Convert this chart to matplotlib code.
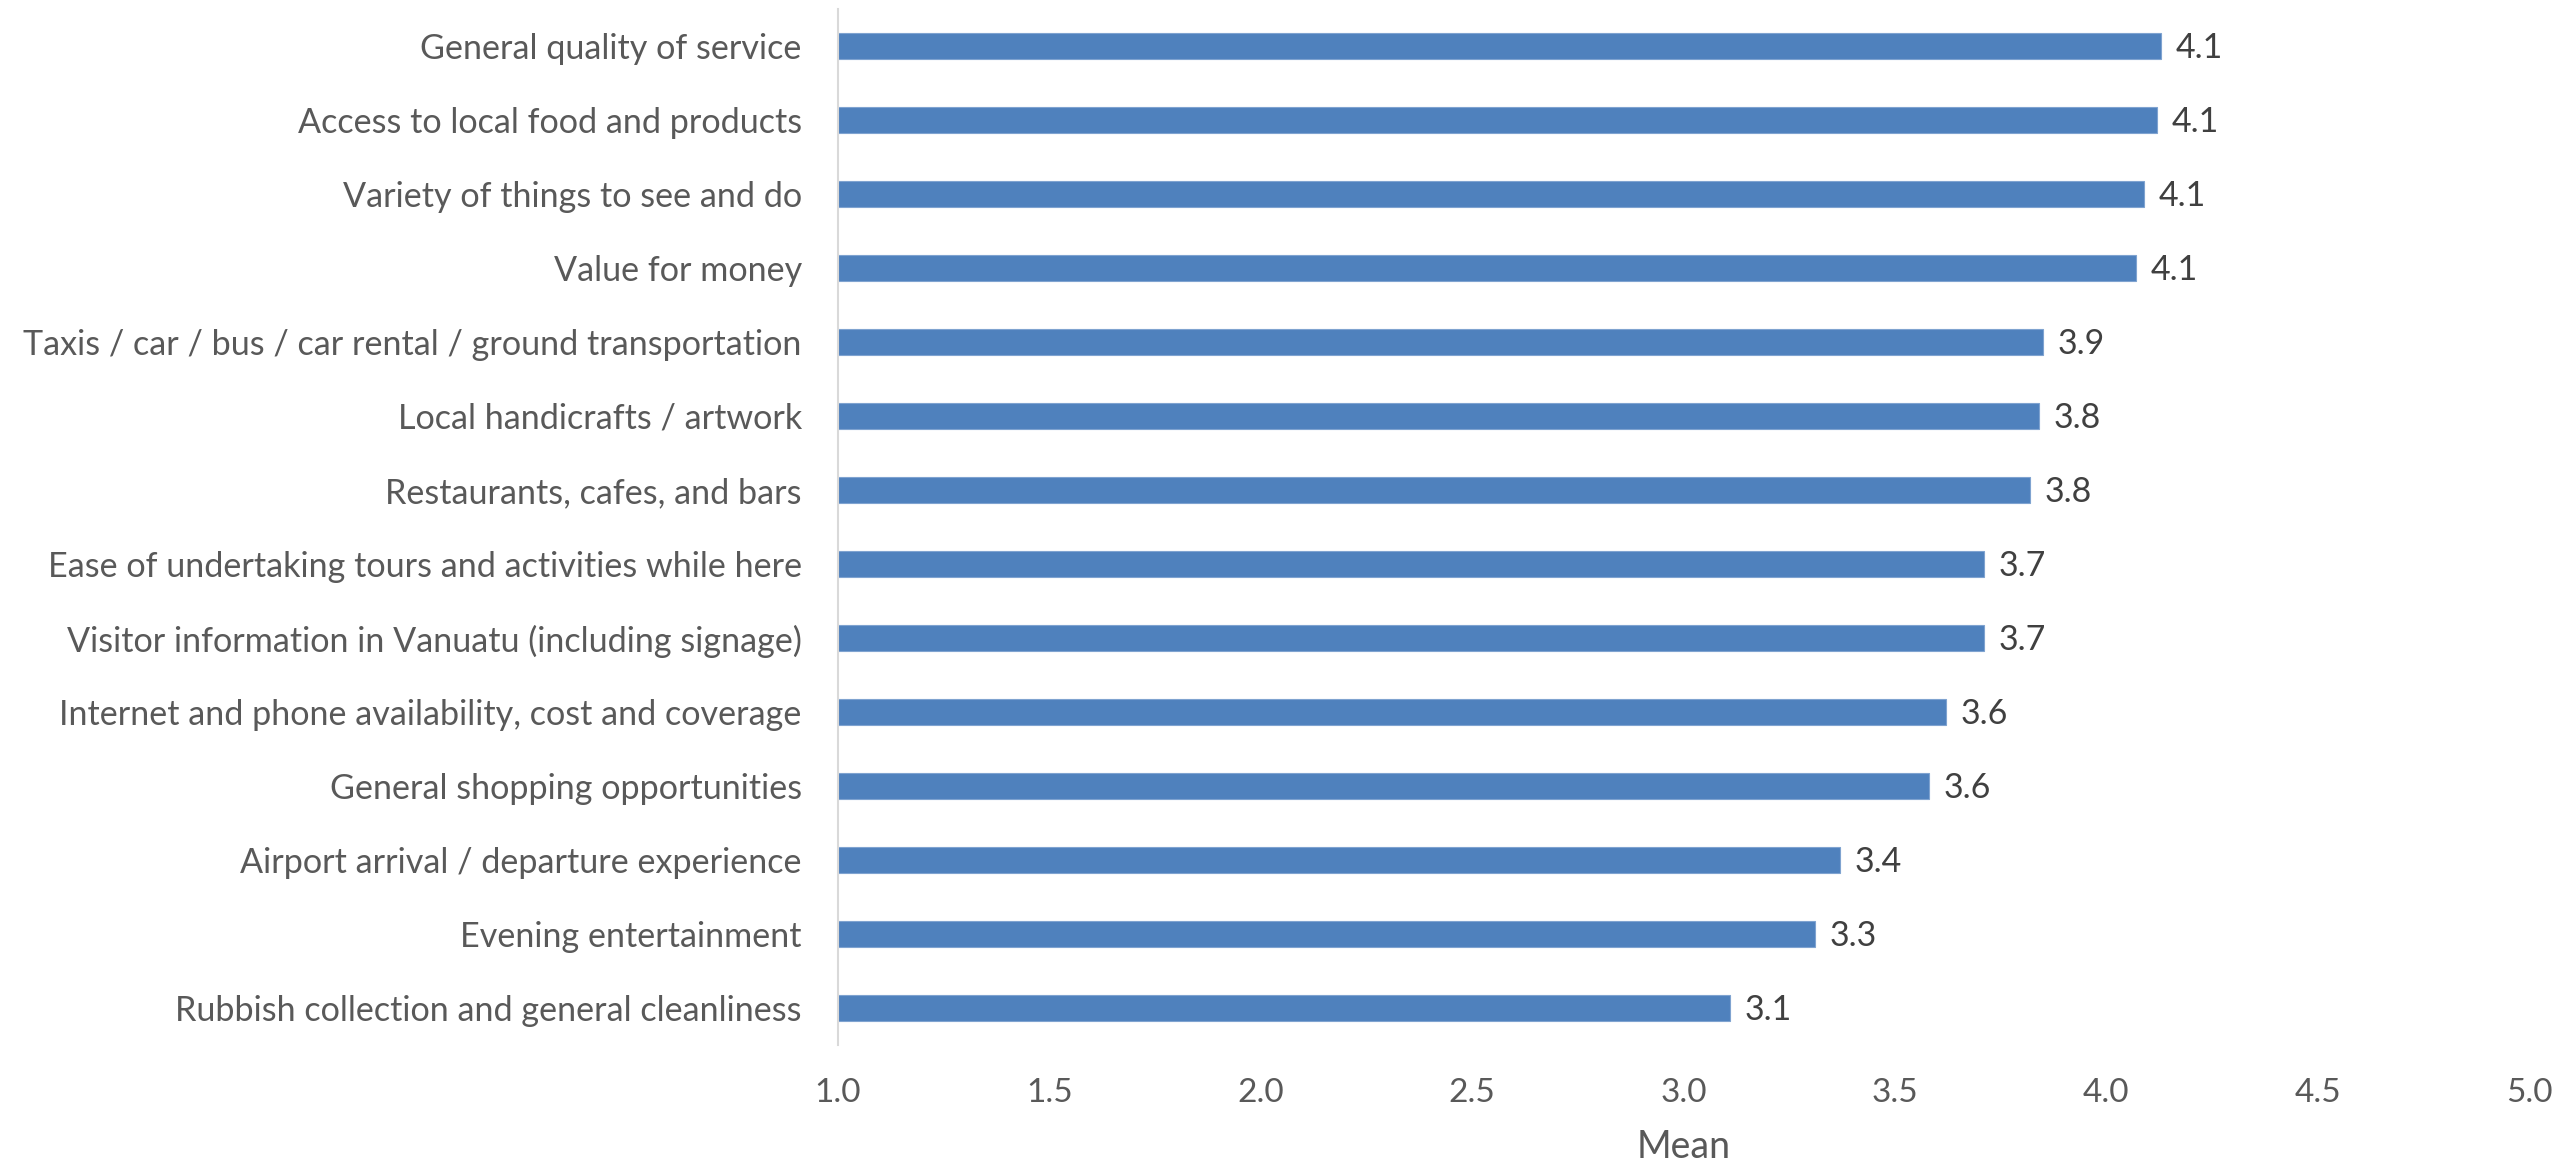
import numpy as np
import matplotlib.pyplot as plt

# mean satisfaction scores, listed top to bottom
categories = [
    'General quality of service',
    'Access to local food and products',
    'Variety of things to see and do',
    'Value for money',
    'Taxis / car / bus / car rental / ground transportation',
    'Local handicrafts / artwork',
    'Restaurants, cafes, and bars',
    'Ease of undertaking tours and activities while here',
    'Visitor information in Vanuatu (including signage)',
    'Internet and phone availability, cost and coverage',
    'General shopping opportunities',
    'Airport arrival / departure experience',
    'Evening entertainment',
    'Rubbish collection and general cleanliness',
]
means = [4.13, 4.12, 4.09, 4.07, 3.85, 3.84, 3.82, 3.71, 3.71, 3.62, 3.58, 3.37, 3.31, 3.11]
x_ticks = [1.0, 1.5, 2.0, 2.5, 3.0, 3.5, 4.0, 4.5, 5.0]

plt.rcParams['font.family'] = ['Lato', 'DejaVu Sans']

fig = plt.figure(figsize=(25.6, 11.63), dpi=100)
ax = fig.add_axes([0.3273, 0.1015, 0.6606, 0.8908])

y = np.arange(len(categories))
bars = ax.barh(y, np.array(means) - 1.0, left=1.0, height=0.35,
               color='#4F81BD', edgecolor='#7FA3D0', linewidth=0.8)

for bar, v in zip(bars, means):
    ax.text(bar.get_x() + bar.get_width() + 0.035, bar.get_y() + bar.get_height() / 2 + 0.03,
            f'{v:.1f}', va='center', ha='left', fontsize=24.5, color='#404040')

ax.set_xlim(1.0, 5.0)
ax.set_ylim(len(categories) - 0.5, -0.5)
ax.set_xticks(x_ticks)
ax.set_xticklabels([f'{t:.1f}' for t in x_ticks])
ax.set_yticks(y)
ax.set_yticklabels(categories)
ax.tick_params(axis='both', length=0, labelsize=24, labelcolor='#595959')
ax.tick_params(axis='y', pad=26, labelsize=24.6)
ax.tick_params(axis='x', pad=24)
ax.set_xlabel('Mean', fontsize=27, color='#595959', labelpad=15)

for side in ['top', 'right', 'bottom']:
    ax.spines[side].set_visible(False)
ax.spines['left'].set_color('#D9D9D9')
ax.spines['left'].set_linewidth(1.5)

fig.savefig('out.png', dpi=100)
